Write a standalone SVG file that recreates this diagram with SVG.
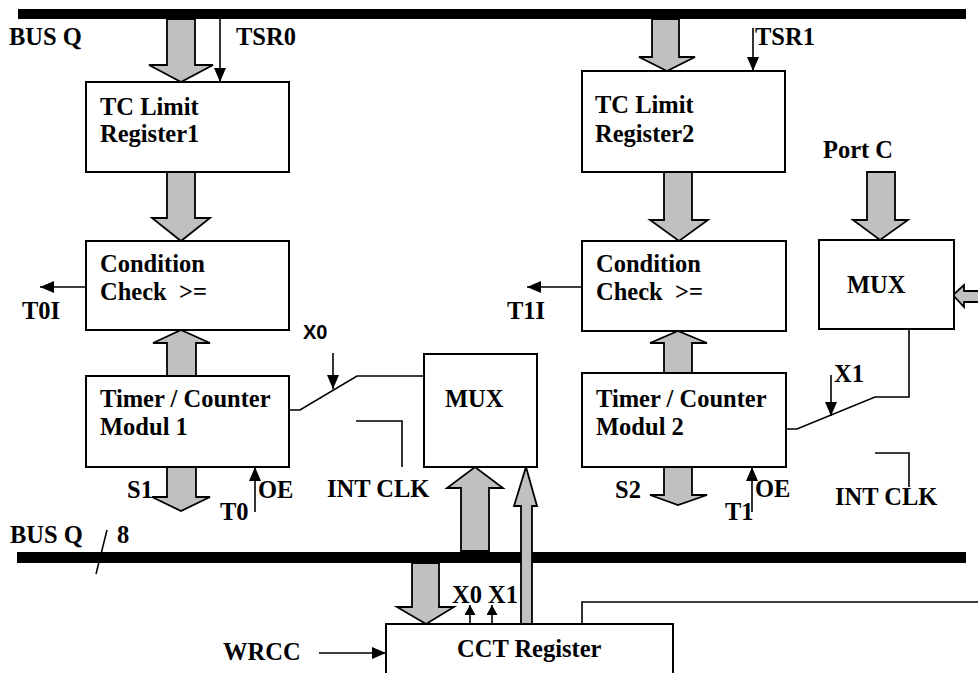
<svg xmlns="http://www.w3.org/2000/svg" width="978" height="673" viewBox="0 0 978 673">
<defs>
<style>
.t{font-family:"Liberation Serif","Times New Roman",serif;font-weight:bold;font-size:24.5px;fill:#000;white-space:pre}
.s{font-family:"Liberation Sans",Arial,sans-serif;font-weight:bold;font-size:20px;fill:#000}
.box{fill:#fff;stroke:#000;stroke-width:2}
.ga{fill:#c0c0c0;stroke:#000;stroke-width:1.8;stroke-linejoin:miter}
.ln{fill:none;stroke:#000;stroke-width:1.6}
.ar{fill:none;stroke:#000;stroke-width:1.6;marker-end:url(#ah)}
.ars{fill:none;stroke:#000;stroke-width:1.6;marker-end:url(#ahs)}
.bus{fill:#000}
</style>
<marker id="ah" markerUnits="userSpaceOnUse" markerWidth="14" markerHeight="12" refX="14" refY="6" orient="auto" viewBox="0 0 14 12"><path d="M0,0 L14,6 L0,12 z" fill="#000"/></marker>
<marker id="ahs" markerUnits="userSpaceOnUse" markerWidth="10" markerHeight="11" refX="10" refY="5.5" orient="auto" viewBox="0 0 10 11"><path d="M0,0 L10,5.5 L0,11 z" fill="#000"/></marker>
</defs>
<rect width="978" height="673" fill="#fff"/>

<g id="buses">
<rect class="bus" x="18" y="9" width="948" height="10"/>
<rect class="bus" x="17" y="552" width="949" height="11"/>
<line class="ln" x1="107" y1="530" x2="96" y2="574"/>
<text class="t" x="9" y="45">BUS Q</text>
<text class="t" x="10" y="543">BUS Q</text>
<text class="t" x="117" y="543">8</text>
</g>

<g id="connectors">
<polygon class="ga" points="167,19 195,19 195,65 213,65 181,82 149,65 167,65"/>
<polygon class="ga" points="167,172 195,172 195,218 210,218 181,241 152,218 167,218"/>
<polygon class="ga" points="167,376 196,376 196,343 210,343 181,330 153,343 167,343"/>
<polygon class="ga" points="167,467 196,467 196,497 210,497 181,511 152,497 167,497"/>
<polygon class="ga" points="652,19 679,19 679,57 695,57 667,71 639,57 652,57"/>
<polygon class="ga" points="664,172 692,172 692,220 708,220 679,241 650,220 664,220"/>
<polygon class="ga" points="664,373 692,373 692,343 707,343 678,331 650,343 664,343"/>
<polygon class="ga" points="664,467 692,467 692,495 707,495 678,505 650,495 664,495"/>
<polygon class="ga" points="867,172 895,172 895,220 908,220 880,240 853,220 867,220"/>
<polygon class="ga" points="982,291 964,291 964,285 953,295 964,307 964,302 982,302"/>
<polygon class="ga" points="461,551 489,551 489,488 503,488 475,467 447,488 461,488"/>
<polygon class="ga" points="412,563 439,563 439,607 454,607 426,624 397,607 412,607"/>
<polygon class="ga" points="521,624 532,624 532,506 537,506 526,467 514,506 521,506"/>

<line class="ar" x1="220" y1="19" x2="220" y2="82"/>
<line class="ar" x1="753" y1="28" x2="753" y2="71"/>
<line class="ar" x1="86" y1="287" x2="40" y2="287"/>
<line class="ar" x1="582" y1="287" x2="527" y2="287"/>
<line class="ar" x1="255" y1="512" x2="255" y2="467"/>
<line class="ar" x1="752" y1="512" x2="752" y2="467"/>
<polyline class="ln" points="289,410 300,410 357,376 424,376"/>
<line class="ar" x1="333" y1="353" x2="333" y2="389"/>
<polyline class="ln" points="356,421 402,421 402,467"/>
<polyline class="ln" points="909,329 909,397 875,397 797,429 786,429"/>
<line class="ar" x1="831" y1="375" x2="831" y2="416"/>
<polyline class="ln" points="875,453 909,453 909,487"/>
<line class="ars" x1="470" y1="624" x2="470" y2="605"/>
<line class="ars" x1="492" y1="624" x2="492" y2="605"/>
<polyline class="ln" points="582,624 582,602 980,602"/>
<line class="ar" x1="319" y1="653" x2="386" y2="653"/>
</g>

<g id="tc1">
<rect class="box" x="86" y="82" width="203" height="90"/>
<text class="t" x="100" y="115">TC Limit</text>
<text class="t" x="100" y="142">Register1</text>
<text class="t" x="236" y="45">TSR0</text>
</g>
<g id="cond1">
<rect class="box" x="86" y="241" width="203" height="89"/>
<text class="t" x="100" y="272">Condition</text>
<text class="t" x="100" y="300">Check  &gt;=</text>
<text class="t" x="22" y="319">T0I</text>
</g>
<g id="timer1">
<rect class="box" x="86" y="376" width="203" height="91"/>
<text class="t" x="100" y="407">Timer / Counter</text>
<text class="t" x="100" y="435">Modul 1</text>
<text class="t" x="127" y="498">S1</text>
<text class="t" x="258" y="498">OE</text>
<text class="t" x="220" y="520">T0</text>
<text class="s" x="303" y="339">X0</text>
<text class="t" x="327" y="497">INT CLK</text>
</g>
<g id="mux1">
<rect class="box" x="424" y="354" width="113" height="113"/>
<text class="t" x="445" y="407">MUX</text>
</g>
<g id="tc2">
<rect class="box" x="582" y="71" width="203" height="101"/>
<text class="t" x="595" y="113">TC Limit</text>
<text class="t" x="595" y="142">Register2</text>
<text class="t" x="755" y="45">TSR1</text>
</g>
<g id="cond2">
<rect class="box" x="582" y="241" width="204" height="90"/>
<text class="t" x="596" y="272">Condition</text>
<text class="t" x="596" y="300">Check  &gt;=</text>
<text class="t" x="507" y="319">T1I</text>
</g>
<g id="timer2">
<rect class="box" x="582" y="373" width="204" height="94"/>
<text class="t" x="596" y="407">Timer / Counter</text>
<text class="t" x="596" y="435">Modul 2</text>
<text class="t" x="615" y="498">S2</text>
<text class="t" x="755" y="497">OE</text>
<text class="t" x="725" y="520">T1</text>
<text class="t" x="834" y="382">X1</text>
<text class="t" x="835" y="505">INT CLK</text>
</g>
<g id="mux2">
<rect class="box" x="819" y="240" width="135" height="89"/>
<text class="t" x="847" y="293">MUX</text>
<text class="t" x="823" y="158">Port C</text>
</g>
<g id="cct">
<rect class="box" x="386" y="624" width="287" height="60"/>
<text class="t" x="457" y="657">CCT Register</text>
<text class="t" x="452" y="603">X0</text>
<text class="t" x="488" y="603">X1</text>
<text class="t" x="223" y="660">WRCC</text>
</g>
</svg>
